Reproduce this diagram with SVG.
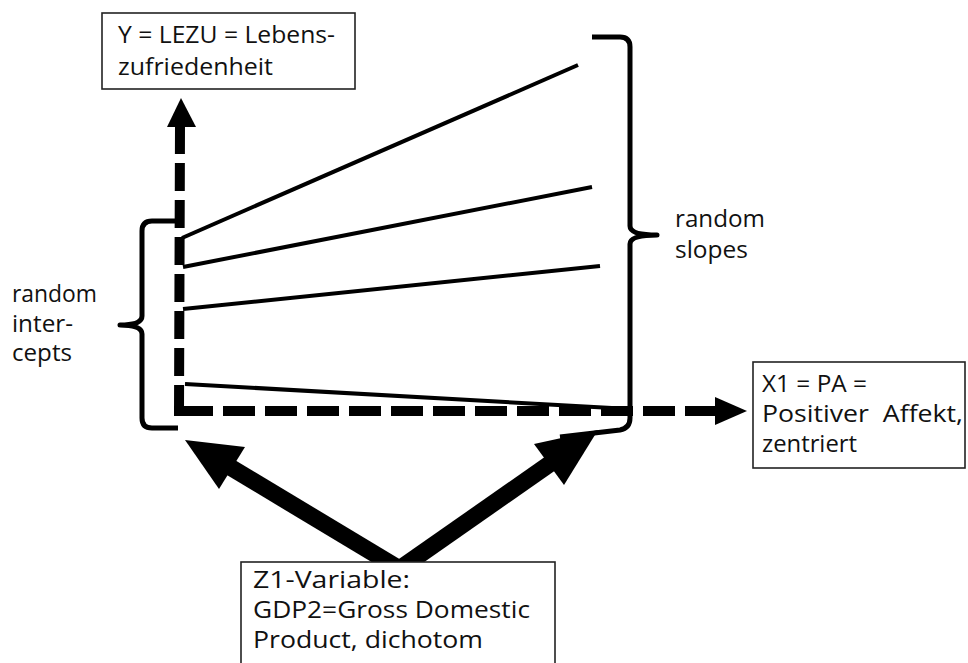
<svg xmlns="http://www.w3.org/2000/svg" width="968" height="663" viewBox="0 0 968 663">
<style>
.box{fill:#fff;stroke:#222;stroke-width:1.6}
.t{font-family:"Open Sans","Liberation Sans",sans-serif;font-size:23px;fill:#111}
.ln{stroke:#000;stroke-width:4;fill:none;stroke-linecap:butt}
.br{stroke:#000;stroke-width:5;fill:none;stroke-linejoin:round}
.dash{stroke:#000;stroke-width:10;fill:none}
.big{stroke:#000;stroke-width:17;fill:none}
.head{fill:#000}
</style>
<rect width="968" height="663" fill="#fff"/>
<g id="connectors">
  <!-- Y axis dashed -->
  <line class="dash" x1="179" y1="413" x2="180" y2="126" stroke-dasharray="28 9"/>
  <polygon class="head" points="181,98 167,127 196,127"/>
  <!-- X axis dashed -->
  <line class="dash" x1="174" y1="411" x2="213" y2="411"/>
  <line class="dash" x1="181" y1="411" x2="717" y2="411" stroke-dasharray="32 10"/>
  <polygon class="head" points="747,411 715,397 715,425"/>
  <!-- regression lines -->
  <line class="ln" x1="182" y1="238" x2="578" y2="65"/>
  <line class="ln" x1="183" y1="267" x2="592" y2="187"/>
  <line class="ln" x1="183" y1="309" x2="600" y2="266"/>
  <line class="ln" x1="185" y1="384" x2="630" y2="409"/>
  <!-- braces -->
  <path class="br" d="M180,221 L152,221 Q142,221 142,231 L142,316 Q142,325 120,325 Q142,325 142,334 L142,418 Q142,428 152,428 L178,428"/>
  <path class="br" d="M592,37 L620,37 Q630,37 630,47 L630,226 Q630,235 657,235 Q630,235 630,244 L630,418 Q630,428 620,430 L560,437"/>
  <!-- big arrows from Z1 -->
  <line class="big" x1="398" y1="568" x2="230" y2="467"/>
  <polygon class="head" points="185,440 245,447 219,489"/>
  <line class="big" x1="398" y1="570" x2="551" y2="463"/>
  <polygon class="head" points="598,430 534,444 564,485"/>
</g>
<g id="node-y">
  <rect class="box" x="102" y="13" width="253" height="76"/>
  <text class="t" x="118" y="43" textLength="217" lengthAdjust="spacingAndGlyphs">Y = LEZU = Lebens-</text>
  <text class="t" x="118" y="75" textLength="155" lengthAdjust="spacingAndGlyphs">zufriedenheit</text>
</g>
<g id="node-x1">
  <rect class="box" x="753" y="362" width="212" height="106"/>
  <text class="t" x="762" y="392" textLength="105" lengthAdjust="spacingAndGlyphs">X1 = PA =</text>
  <text class="t" x="762" y="422" textLength="201" lengthAdjust="spacingAndGlyphs" xml:space="preserve">Positiver  Affekt,</text>
  <text class="t" x="762" y="452" textLength="95" lengthAdjust="spacingAndGlyphs">zentriert</text>
</g>
<g id="node-z1">
  <rect class="box" x="241" y="562" width="314" height="110"/>
  <text class="t" x="253" y="588" textLength="157" lengthAdjust="spacingAndGlyphs">Z1-Variable:</text>
  <text class="t" x="253" y="618" textLength="277" lengthAdjust="spacingAndGlyphs">GDP2=Gross Domestic</text>
  <text class="t" x="253" y="648" textLength="230" lengthAdjust="spacingAndGlyphs">Product, dichotom</text>
</g>
<g id="label-intercepts">
  <text class="t" x="12" y="302" textLength="85" lengthAdjust="spacingAndGlyphs">random</text>
  <text class="t" x="12" y="332" textLength="61" lengthAdjust="spacingAndGlyphs">inter-</text>
  <text class="t" x="12" y="361" textLength="60" lengthAdjust="spacingAndGlyphs">cepts</text>
</g>
<g id="label-slopes">
  <text class="t" x="675" y="227" textLength="90" lengthAdjust="spacingAndGlyphs">random</text>
  <text class="t" x="675" y="258" textLength="73" lengthAdjust="spacingAndGlyphs">slopes</text>
</g>
</svg>
